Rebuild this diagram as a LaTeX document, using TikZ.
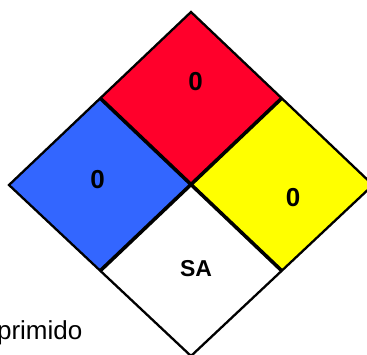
\documentclass[tikz,border=0pt]{standalone}
\usepackage{fontspec}
\setmainfont{Liberation Sans}
\definecolor{nred}{RGB}{255,0,43}
\definecolor{nblue}{RGB}{51,102,255}
\definecolor{nyellow}{RGB}{255,255,0}
\tikzset{
  outer/.style={draw=black,line width=2.3pt,line join=miter},
  inner/.style={draw=black,line width=3.6pt,line cap=butt},
  rating/.style={font=\fontsize{26}{26}\selectfont\bfseries,text=black,inner sep=0pt},
}
\begin{document}
\begin{tikzpicture}[x=1pt,y=-1pt]
\useasboundingbox (0,0) rectangle (367,354);
\clip (0,0) rectangle (367,354);
\coordinate (T) at (191,12);
\coordinate (L) at (9,185);
\coordinate (R) at (373,185);
\coordinate (B) at (191,356);
\coordinate (C) at (191,184);
\coordinate (TL) at (100,98);
\coordinate (TR) at (282,98);
\coordinate (BL) at (100,271);
\coordinate (BR) at (282,271);
\fill[nred] (T) -- (TR) -- (C) -- (TL) -- cycle;
\fill[nblue] (TL) -- (C) -- (BL) -- (L) -- cycle;
\fill[nyellow] (TR) -- (R) -- (BR) -- (C) -- cycle;
\draw[inner] (TL) -- (BR);
\draw[inner] (TR) -- (BL);
\draw[outer] (T) -- (R) -- (B) -- (L) -- cycle;
\node[rating] (red) at (195.5,82) {0};
\node[rating] (blue) at (97.5,180) {0};
\node[rating] (yellow) at (293,197.5) {0};
\node[inner sep=0pt,font=\fontsize{23}{23}\selectfont\bfseries] (sa) at (196,269) {SA};
\node[inner sep=0pt,anchor=base east,font=\fontsize{26}{26}\selectfont] (label) at (82.5,339) {primido};
\end{tikzpicture}
\end{document}
